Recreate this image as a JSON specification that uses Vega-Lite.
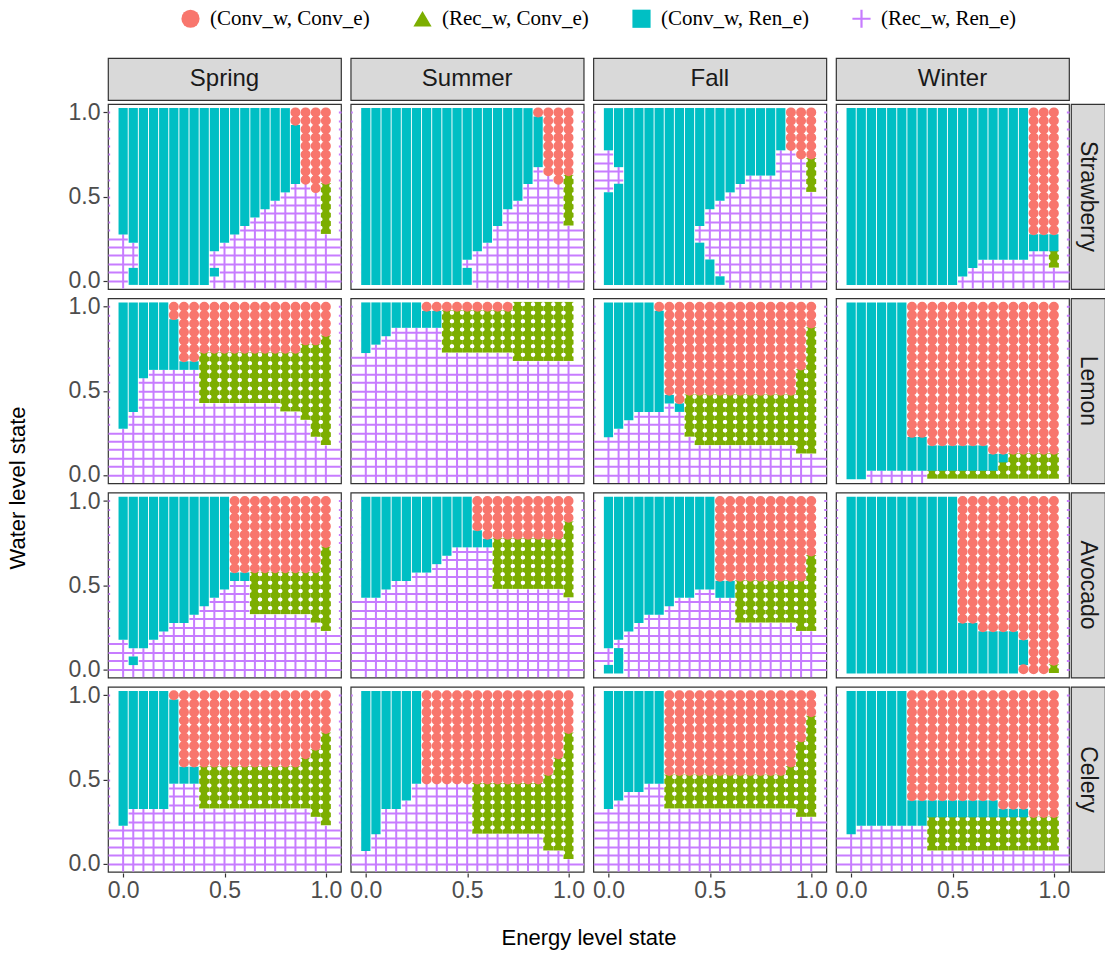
{
  "$schema": "https://vega.github.io/schema/vega-lite/v6.json",
  "padding": {"left": 6, "right": 0, "top": 8, "bottom": 5},
  "background": "white",
  "config": {
    "font": "Liberation Sans",
    "view": {"stroke": null}
  },
  "spacing": 0,
  "vconcat": [
    {
      "data": {"values": [{"season": "Spring"}, {"season": "Summer"}, {"season": "Fall"}, {"season": "Winter"}]},
      "facet": {"column": {"field": "season", "type": "nominal", "sort": ["Spring", "Summer", "Fall", "Winter"], "header": null}},
      "spacing": 7.67,
      "spec": {
        "width": 233, "height": 42,
        "view": {"fill": "#D9D9D9", "stroke": "#333333", "strokeWidth": 1.2},
        "mark": {"type": "text", "fontSize": 24, "color": "#1A1A1A", "font": "Liberation Sans"},
        "encoding": {"text": {"field": "season", "type": "nominal"}}
      }
    },
    {
      "spacing": 0,
      "hconcat": [
        {
          "data": {
            "values": "s,c,x,lo,hi,k\nSp,St,0,0,0.25,P\nSp,St,0,0.3,1,C\nSp,St,0.05,0,0.05,C\nSp,St,0.05,0.1,0.2,P\nSp,St,0.05,0.25,1,C\nSp,St,0.1,0,1,C\nSp,St,0.15,0,1,C\nSp,St,0.2,0,1,C\nSp,St,0.25,0,1,C\nSp,St,0.3,0,1,C\nSp,St,0.35,0,1,C\nSp,St,0.4,0,1,C\nSp,St,0.45,0,0,P\nSp,St,0.45,0.05,0.05,C\nSp,St,0.45,0.1,0.15,P\nSp,St,0.45,0.2,1,C\nSp,St,0.5,0,0.2,P\nSp,St,0.5,0.25,1,C\nSp,St,0.55,0,0.25,P\nSp,St,0.55,0.3,1,C\nSp,St,0.6,0,0.3,P\nSp,St,0.6,0.35,1,C\nSp,St,0.65,0,0.35,P\nSp,St,0.65,0.4,1,C\nSp,St,0.7,0,0.4,P\nSp,St,0.7,0.45,1,C\nSp,St,0.75,0,0.45,P\nSp,St,0.75,0.5,1,C\nSp,St,0.8,0,0.5,P\nSp,St,0.8,0.55,1,C\nSp,St,0.85,0,0.55,P\nSp,St,0.85,0.6,0.9,C\nSp,St,0.85,0.95,1,R\nSp,St,0.9,0,0.55,P\nSp,St,0.9,0.6,1,R\nSp,St,0.95,0,0.5,P\nSp,St,0.95,0.55,1,R\nSp,St,1,0,0.25,P\nSp,St,1,0.3,0.55,G\nSp,St,1,0.6,1,R\nSu,St,0,0,1,C\nSu,St,0.05,0,1,C\nSu,St,0.1,0,1,C\nSu,St,0.15,0,1,C\nSu,St,0.2,0,1,C\nSu,St,0.25,0,1,C\nSu,St,0.3,0,1,C\nSu,St,0.35,0,1,C\nSu,St,0.4,0,1,C\nSu,St,0.45,0,1,C\nSu,St,0.5,0,0.05,C\nSu,St,0.5,0.1,0.1,P\nSu,St,0.5,0.15,1,C\nSu,St,0.55,0,0.15,P\nSu,St,0.55,0.2,1,C\nSu,St,0.6,0,0.2,P\nSu,St,0.6,0.25,1,C\nSu,St,0.65,0,0.3,P\nSu,St,0.65,0.35,1,C\nSu,St,0.7,0,0.4,P\nSu,St,0.7,0.45,1,C\nSu,St,0.75,0,0.45,P\nSu,St,0.75,0.5,1,C\nSu,St,0.8,0,0.55,P\nSu,St,0.8,0.6,1,C\nSu,St,0.85,0,0.65,P\nSu,St,0.85,0.7,0.95,C\nSu,St,0.85,1,1,R\nSu,St,0.9,0,0.6,P\nSu,St,0.9,0.65,1,R\nSu,St,0.95,0,0.55,P\nSu,St,0.95,0.6,1,R\nSu,St,1,0,0.3,P\nSu,St,1,0.35,0.6,G\nSu,St,1,0.65,1,R\nFa,St,0,0,0.5,C\nFa,St,0,0.55,0.75,P\nFa,St,0,0.8,1,C\nFa,St,0.05,0,0.55,C\nFa,St,0.05,0.6,0.65,P\nFa,St,0.05,0.7,1,C\nFa,St,0.1,0,1,C\nFa,St,0.15,0,1,C\nFa,St,0.2,0,1,C\nFa,St,0.25,0,1,C\nFa,St,0.3,0,1,C\nFa,St,0.35,0,1,C\nFa,St,0.4,0,1,C\nFa,St,0.45,0,0.2,C\nFa,St,0.45,0.25,0.3,P\nFa,St,0.45,0.35,1,C\nFa,St,0.5,0,0.1,C\nFa,St,0.5,0.15,0.4,P\nFa,St,0.5,0.45,1,C\nFa,St,0.55,0,0,C\nFa,St,0.55,0.05,0.45,P\nFa,St,0.55,0.5,1,C\nFa,St,0.6,0,0.5,P\nFa,St,0.6,0.55,1,C\nFa,St,0.65,0,0.55,P\nFa,St,0.65,0.6,1,C\nFa,St,0.7,0,0.6,P\nFa,St,0.7,0.65,1,C\nFa,St,0.75,0,0.6,P\nFa,St,0.75,0.65,1,C\nFa,St,0.8,0,0.6,P\nFa,St,0.8,0.65,1,C\nFa,St,0.85,0,0.75,P\nFa,St,0.85,0.8,1,C\nFa,St,0.9,0,0.75,P\nFa,St,0.9,0.8,1,R\nFa,St,0.95,0,0.7,P\nFa,St,0.95,0.75,1,R\nFa,St,1,0,0.5,P\nFa,St,1,0.55,0.7,G\nFa,St,1,0.75,1,R\nWi,St,0,0,1,C\nWi,St,0.05,0,1,C\nWi,St,0.1,0,1,C\nWi,St,0.15,0,1,C\nWi,St,0.2,0,1,C\nWi,St,0.25,0,1,C\nWi,St,0.3,0,1,C\nWi,St,0.35,0,1,C\nWi,St,0.4,0,1,C\nWi,St,0.45,0,1,C\nWi,St,0.5,0,1,C\nWi,St,0.55,0,0,P\nWi,St,0.55,0.05,1,C\nWi,St,0.6,0,0.05,P\nWi,St,0.6,0.1,1,C\nWi,St,0.65,0,0.1,P\nWi,St,0.65,0.15,1,C\nWi,St,0.7,0,0.1,P\nWi,St,0.7,0.15,1,C\nWi,St,0.75,0,0.1,P\nWi,St,0.75,0.15,1,C\nWi,St,0.8,0,0.1,P\nWi,St,0.8,0.15,1,C\nWi,St,0.85,0,0.1,P\nWi,St,0.85,0.15,1,C\nWi,St,0.9,0,0.15,P\nWi,St,0.9,0.2,0.25,C\nWi,St,0.9,0.3,1,R\nWi,St,0.95,0,0.15,P\nWi,St,0.95,0.2,0.25,C\nWi,St,0.95,0.3,1,R\nWi,St,1,0,0.05,P\nWi,St,1,0.1,0.15,G\nWi,St,1,0.2,0.25,C\nWi,St,1,0.3,1,R\nSp,Le,0,0,0.25,P\nSp,Le,0,0.3,1,C\nSp,Le,0.05,0,0.35,P\nSp,Le,0.05,0.4,1,C\nSp,Le,0.1,0,0.55,P\nSp,Le,0.1,0.6,1,C\nSp,Le,0.15,0,0.6,P\nSp,Le,0.15,0.65,1,C\nSp,Le,0.2,0,0.6,P\nSp,Le,0.2,0.65,1,C\nSp,Le,0.25,0,0.6,P\nSp,Le,0.25,0.65,0.9,C\nSp,Le,0.25,0.95,1,R\nSp,Le,0.3,0,0.6,P\nSp,Le,0.3,0.65,0.65,C\nSp,Le,0.3,0.7,1,R\nSp,Le,0.35,0,0.6,P\nSp,Le,0.35,0.65,0.65,C\nSp,Le,0.35,0.7,1,R\nSp,Le,0.4,0,0.4,P\nSp,Le,0.4,0.45,0.7,G\nSp,Le,0.4,0.75,1,R\nSp,Le,0.45,0,0.4,P\nSp,Le,0.45,0.45,0.7,G\nSp,Le,0.45,0.75,1,R\nSp,Le,0.5,0,0.4,P\nSp,Le,0.5,0.45,0.7,G\nSp,Le,0.5,0.75,1,R\nSp,Le,0.55,0,0.4,P\nSp,Le,0.55,0.45,0.7,G\nSp,Le,0.55,0.75,1,R\nSp,Le,0.6,0,0.4,P\nSp,Le,0.6,0.45,0.7,G\nSp,Le,0.6,0.75,1,R\nSp,Le,0.65,0,0.4,P\nSp,Le,0.65,0.45,0.7,G\nSp,Le,0.65,0.75,1,R\nSp,Le,0.7,0,0.4,P\nSp,Le,0.7,0.45,0.7,G\nSp,Le,0.7,0.75,1,R\nSp,Le,0.75,0,0.4,P\nSp,Le,0.75,0.45,0.7,G\nSp,Le,0.75,0.75,1,R\nSp,Le,0.8,0,0.35,P\nSp,Le,0.8,0.4,0.7,G\nSp,Le,0.8,0.75,1,R\nSp,Le,0.85,0,0.35,P\nSp,Le,0.85,0.4,0.7,G\nSp,Le,0.85,0.75,1,R\nSp,Le,0.9,0,0.3,P\nSp,Le,0.9,0.35,0.75,G\nSp,Le,0.9,0.8,1,R\nSp,Le,0.95,0,0.2,P\nSp,Le,0.95,0.25,0.75,G\nSp,Le,0.95,0.8,1,R\nSp,Le,1,0,0.15,P\nSp,Le,1,0.2,0.8,G\nSp,Le,1,0.85,1,R\nSu,Le,0,0,0.7,P\nSu,Le,0,0.75,1,C\nSu,Le,0.05,0,0.75,P\nSu,Le,0.05,0.8,1,C\nSu,Le,0.1,0,0.8,P\nSu,Le,0.1,0.85,1,C\nSu,Le,0.15,0,0.85,P\nSu,Le,0.15,0.9,1,C\nSu,Le,0.2,0,0.85,P\nSu,Le,0.2,0.9,1,C\nSu,Le,0.25,0,0.85,P\nSu,Le,0.25,0.9,1,C\nSu,Le,0.3,0,0.85,P\nSu,Le,0.3,0.9,0.95,C\nSu,Le,0.3,1,1,R\nSu,Le,0.35,0,0.85,P\nSu,Le,0.35,0.9,0.95,C\nSu,Le,0.35,1,1,R\nSu,Le,0.4,0,0.7,P\nSu,Le,0.4,0.75,0.95,G\nSu,Le,0.4,1,1,R\nSu,Le,0.45,0,0.7,P\nSu,Le,0.45,0.75,0.95,G\nSu,Le,0.45,1,1,R\nSu,Le,0.5,0,0.7,P\nSu,Le,0.5,0.75,0.95,G\nSu,Le,0.5,1,1,R\nSu,Le,0.55,0,0.7,P\nSu,Le,0.55,0.75,0.95,G\nSu,Le,0.55,1,1,R\nSu,Le,0.6,0,0.7,P\nSu,Le,0.6,0.75,0.95,G\nSu,Le,0.6,1,1,R\nSu,Le,0.65,0,0.7,P\nSu,Le,0.65,0.75,0.95,G\nSu,Le,0.65,1,1,R\nSu,Le,0.7,0,0.7,P\nSu,Le,0.7,0.75,0.95,G\nSu,Le,0.7,1,1,R\nSu,Le,0.75,0,0.65,P\nSu,Le,0.75,0.7,1,G\nSu,Le,0.8,0,0.65,P\nSu,Le,0.8,0.7,1,G\nSu,Le,0.85,0,0.65,P\nSu,Le,0.85,0.7,1,G\nSu,Le,0.9,0,0.65,P\nSu,Le,0.9,0.7,1,G\nSu,Le,0.95,0,0.65,P\nSu,Le,0.95,0.7,1,G\nSu,Le,1,0,0.65,P\nSu,Le,1,0.7,1,G\nFa,Le,0,0,0.2,P\nFa,Le,0,0.25,1,C\nFa,Le,0.05,0,0.25,P\nFa,Le,0.05,0.3,1,C\nFa,Le,0.1,0,0.3,P\nFa,Le,0.1,0.35,1,C\nFa,Le,0.15,0,0.35,P\nFa,Le,0.15,0.4,1,C\nFa,Le,0.2,0,0.35,P\nFa,Le,0.2,0.4,1,C\nFa,Le,0.25,0,0.35,P\nFa,Le,0.25,0.4,0.95,C\nFa,Le,0.25,1,1,R\nFa,Le,0.3,0,0.4,P\nFa,Le,0.3,0.45,0.45,C\nFa,Le,0.3,0.5,1,R\nFa,Le,0.35,0,0.35,P\nFa,Le,0.35,0.4,0.4,C\nFa,Le,0.35,0.45,1,R\nFa,Le,0.4,0,0.2,P\nFa,Le,0.4,0.25,0.45,G\nFa,Le,0.4,0.5,1,R\nFa,Le,0.45,0,0.15,P\nFa,Le,0.45,0.2,0.45,G\nFa,Le,0.45,0.5,1,R\nFa,Le,0.5,0,0.15,P\nFa,Le,0.5,0.2,0.45,G\nFa,Le,0.5,0.5,1,R\nFa,Le,0.55,0,0.15,P\nFa,Le,0.55,0.2,0.45,G\nFa,Le,0.55,0.5,1,R\nFa,Le,0.6,0,0.15,P\nFa,Le,0.6,0.2,0.45,G\nFa,Le,0.6,0.5,1,R\nFa,Le,0.65,0,0.15,P\nFa,Le,0.65,0.2,0.45,G\nFa,Le,0.65,0.5,1,R\nFa,Le,0.7,0,0.15,P\nFa,Le,0.7,0.2,0.45,G\nFa,Le,0.7,0.5,1,R\nFa,Le,0.75,0,0.15,P\nFa,Le,0.75,0.2,0.45,G\nFa,Le,0.75,0.5,1,R\nFa,Le,0.8,0,0.15,P\nFa,Le,0.8,0.2,0.45,G\nFa,Le,0.8,0.5,1,R\nFa,Le,0.85,0,0.15,P\nFa,Le,0.85,0.2,0.45,G\nFa,Le,0.85,0.5,1,R\nFa,Le,0.9,0,0.15,P\nFa,Le,0.9,0.2,0.45,G\nFa,Le,0.9,0.5,1,R\nFa,Le,0.95,0,0.1,P\nFa,Le,0.95,0.15,0.6,G\nFa,Le,0.95,0.65,1,R\nFa,Le,1,0,0.1,P\nFa,Le,1,0.15,0.85,G\nFa,Le,1,0.9,1,R\nWi,Le,0,0,1,C\nWi,Le,0.05,0,1,C\nWi,Le,0.1,0,0,P\nWi,Le,0.1,0.05,1,C\nWi,Le,0.15,0,0,P\nWi,Le,0.15,0.05,1,C\nWi,Le,0.2,0,0,P\nWi,Le,0.2,0.05,1,C\nWi,Le,0.25,0,0,P\nWi,Le,0.25,0.05,1,C\nWi,Le,0.3,0,0,P\nWi,Le,0.3,0.05,0.2,C\nWi,Le,0.3,0.25,1,R\nWi,Le,0.35,0,0,P\nWi,Le,0.35,0.05,0.2,C\nWi,Le,0.35,0.25,1,R\nWi,Le,0.4,0,0,G\nWi,Le,0.4,0.05,0.15,C\nWi,Le,0.4,0.2,1,R\nWi,Le,0.45,0,0,G\nWi,Le,0.45,0.05,0.15,C\nWi,Le,0.45,0.2,1,R\nWi,Le,0.5,0,0,G\nWi,Le,0.5,0.05,0.15,C\nWi,Le,0.5,0.2,1,R\nWi,Le,0.55,0,0,G\nWi,Le,0.55,0.05,0.15,C\nWi,Le,0.55,0.2,1,R\nWi,Le,0.6,0,0,G\nWi,Le,0.6,0.05,0.15,C\nWi,Le,0.6,0.2,1,R\nWi,Le,0.65,0,0,G\nWi,Le,0.65,0.05,0.15,C\nWi,Le,0.65,0.2,1,R\nWi,Le,0.7,0,0,G\nWi,Le,0.7,0.05,0.1,C\nWi,Le,0.7,0.15,1,R\nWi,Le,0.75,0,0.05,G\nWi,Le,0.75,0.1,0.1,C\nWi,Le,0.75,0.15,1,R\nWi,Le,0.8,0,0.1,G\nWi,Le,0.8,0.15,1,R\nWi,Le,0.85,0,0.1,G\nWi,Le,0.85,0.15,1,R\nWi,Le,0.9,0,0.1,G\nWi,Le,0.9,0.15,1,R\nWi,Le,0.95,0,0.1,G\nWi,Le,0.95,0.15,1,R\nWi,Le,1,0,0.1,G\nWi,Le,1,0.15,1,R\nSp,Av,0,0,0.15,P\nSp,Av,0,0.2,1,C\nSp,Av,0.05,0,0,P\nSp,Av,0.05,0.05,0.05,C\nSp,Av,0.05,0.1,0.1,P\nSp,Av,0.05,0.15,1,C\nSp,Av,0.1,0,0.1,P\nSp,Av,0.1,0.15,1,C\nSp,Av,0.15,0,0.15,P\nSp,Av,0.15,0.2,1,C\nSp,Av,0.2,0,0.2,P\nSp,Av,0.2,0.25,1,C\nSp,Av,0.25,0,0.25,P\nSp,Av,0.25,0.3,1,C\nSp,Av,0.3,0,0.25,P\nSp,Av,0.3,0.3,1,C\nSp,Av,0.35,0,0.3,P\nSp,Av,0.35,0.35,1,C\nSp,Av,0.4,0,0.35,P\nSp,Av,0.4,0.4,1,C\nSp,Av,0.45,0,0.4,P\nSp,Av,0.45,0.45,1,C\nSp,Av,0.5,0,0.45,P\nSp,Av,0.5,0.5,1,C\nSp,Av,0.55,0,0.5,P\nSp,Av,0.55,0.55,0.55,C\nSp,Av,0.55,0.6,1,R\nSp,Av,0.6,0,0.5,P\nSp,Av,0.6,0.55,0.55,C\nSp,Av,0.6,0.6,1,R\nSp,Av,0.65,0,0.3,P\nSp,Av,0.65,0.35,0.55,G\nSp,Av,0.65,0.6,1,R\nSp,Av,0.7,0,0.3,P\nSp,Av,0.7,0.35,0.55,G\nSp,Av,0.7,0.6,1,R\nSp,Av,0.75,0,0.3,P\nSp,Av,0.75,0.35,0.55,G\nSp,Av,0.75,0.6,1,R\nSp,Av,0.8,0,0.3,P\nSp,Av,0.8,0.35,0.55,G\nSp,Av,0.8,0.6,1,R\nSp,Av,0.85,0,0.3,P\nSp,Av,0.85,0.35,0.55,G\nSp,Av,0.85,0.6,1,R\nSp,Av,0.9,0,0.3,P\nSp,Av,0.9,0.35,0.55,G\nSp,Av,0.9,0.6,1,R\nSp,Av,0.95,0,0.25,P\nSp,Av,0.95,0.3,0.55,G\nSp,Av,0.95,0.6,1,R\nSp,Av,1,0,0.2,P\nSp,Av,1,0.25,0.7,G\nSp,Av,1,0.75,1,R\nSu,Av,0,0,0.4,P\nSu,Av,0,0.45,1,C\nSu,Av,0.05,0,0.4,P\nSu,Av,0.05,0.45,1,C\nSu,Av,0.1,0,0.45,P\nSu,Av,0.1,0.5,1,C\nSu,Av,0.15,0,0.5,P\nSu,Av,0.15,0.55,1,C\nSu,Av,0.2,0,0.5,P\nSu,Av,0.2,0.55,1,C\nSu,Av,0.25,0,0.55,P\nSu,Av,0.25,0.6,1,C\nSu,Av,0.3,0,0.55,P\nSu,Av,0.3,0.6,1,C\nSu,Av,0.35,0,0.6,P\nSu,Av,0.35,0.65,1,C\nSu,Av,0.4,0,0.65,P\nSu,Av,0.4,0.7,1,C\nSu,Av,0.45,0,0.7,P\nSu,Av,0.45,0.75,1,C\nSu,Av,0.5,0,0.7,P\nSu,Av,0.5,0.75,1,C\nSu,Av,0.55,0,0.7,P\nSu,Av,0.55,0.75,0.8,C\nSu,Av,0.55,0.85,1,R\nSu,Av,0.6,0,0.7,P\nSu,Av,0.6,0.75,0.75,C\nSu,Av,0.6,0.8,1,R\nSu,Av,0.65,0,0.45,P\nSu,Av,0.65,0.5,0.75,G\nSu,Av,0.65,0.8,1,R\nSu,Av,0.7,0,0.45,P\nSu,Av,0.7,0.5,0.75,G\nSu,Av,0.7,0.8,1,R\nSu,Av,0.75,0,0.45,P\nSu,Av,0.75,0.5,0.75,G\nSu,Av,0.75,0.8,1,R\nSu,Av,0.8,0,0.45,P\nSu,Av,0.8,0.5,0.75,G\nSu,Av,0.8,0.8,1,R\nSu,Av,0.85,0,0.45,P\nSu,Av,0.85,0.5,0.75,G\nSu,Av,0.85,0.8,1,R\nSu,Av,0.9,0,0.45,P\nSu,Av,0.9,0.5,0.75,G\nSu,Av,0.9,0.8,1,R\nSu,Av,0.95,0,0.45,P\nSu,Av,0.95,0.5,0.75,G\nSu,Av,0.95,0.8,1,R\nSu,Av,1,0,0.4,P\nSu,Av,1,0.45,0.85,G\nSu,Av,1,0.9,1,R\nFa,Av,0,0,0,C\nFa,Av,0,0.05,0.1,P\nFa,Av,0,0.15,1,C\nFa,Av,0.05,0,0.1,C\nFa,Av,0.05,0.15,0.15,P\nFa,Av,0.05,0.2,1,C\nFa,Av,0.1,0,0.2,P\nFa,Av,0.1,0.25,1,C\nFa,Av,0.15,0,0.25,P\nFa,Av,0.15,0.3,1,C\nFa,Av,0.2,0,0.3,P\nFa,Av,0.2,0.35,1,C\nFa,Av,0.25,0,0.3,P\nFa,Av,0.25,0.35,1,C\nFa,Av,0.3,0,0.35,P\nFa,Av,0.3,0.4,1,C\nFa,Av,0.35,0,0.4,P\nFa,Av,0.35,0.45,1,C\nFa,Av,0.4,0,0.4,P\nFa,Av,0.4,0.45,1,C\nFa,Av,0.45,0,0.45,P\nFa,Av,0.45,0.5,1,C\nFa,Av,0.5,0,0.45,P\nFa,Av,0.5,0.5,1,C\nFa,Av,0.55,0,0.4,P\nFa,Av,0.55,0.45,0.5,C\nFa,Av,0.55,0.55,1,R\nFa,Av,0.6,0,0.4,P\nFa,Av,0.6,0.45,0.5,C\nFa,Av,0.6,0.55,1,R\nFa,Av,0.65,0,0.25,P\nFa,Av,0.65,0.3,0.5,G\nFa,Av,0.65,0.55,1,R\nFa,Av,0.7,0,0.25,P\nFa,Av,0.7,0.3,0.5,G\nFa,Av,0.7,0.55,1,R\nFa,Av,0.75,0,0.25,P\nFa,Av,0.75,0.3,0.5,G\nFa,Av,0.75,0.55,1,R\nFa,Av,0.8,0,0.25,P\nFa,Av,0.8,0.3,0.5,G\nFa,Av,0.8,0.55,1,R\nFa,Av,0.85,0,0.25,P\nFa,Av,0.85,0.3,0.5,G\nFa,Av,0.85,0.55,1,R\nFa,Av,0.9,0,0.25,P\nFa,Av,0.9,0.3,0.5,G\nFa,Av,0.9,0.55,1,R\nFa,Av,0.95,0,0.2,P\nFa,Av,0.95,0.25,0.5,G\nFa,Av,0.95,0.55,1,R\nFa,Av,1,0,0.2,P\nFa,Av,1,0.25,0.65,G\nFa,Av,1,0.7,1,R\nWi,Av,0,0,1,C\nWi,Av,0.05,0,1,C\nWi,Av,0.1,0,1,C\nWi,Av,0.15,0,1,C\nWi,Av,0.2,0,1,C\nWi,Av,0.25,0,1,C\nWi,Av,0.3,0,1,C\nWi,Av,0.35,0,1,C\nWi,Av,0.4,0,1,C\nWi,Av,0.45,0,1,C\nWi,Av,0.5,0,1,C\nWi,Av,0.55,0,0.25,C\nWi,Av,0.55,0.3,1,R\nWi,Av,0.6,0,0.25,C\nWi,Av,0.6,0.3,1,R\nWi,Av,0.65,0,0.2,C\nWi,Av,0.65,0.25,1,R\nWi,Av,0.7,0,0.2,C\nWi,Av,0.7,0.25,1,R\nWi,Av,0.75,0,0.2,C\nWi,Av,0.75,0.25,1,R\nWi,Av,0.8,0,0.2,C\nWi,Av,0.8,0.25,1,R\nWi,Av,0.85,0,0,R\nWi,Av,0.85,0.05,0.15,C\nWi,Av,0.85,0.2,1,R\nWi,Av,0.9,0,1,R\nWi,Av,0.95,0,1,R\nWi,Av,1,0,0,G\nWi,Av,1,0.05,1,R\nSp,Ce,0,0,0.2,P\nSp,Ce,0,0.25,1,C\nSp,Ce,0.05,0,0.3,P\nSp,Ce,0.05,0.35,1,C\nSp,Ce,0.1,0,0.3,P\nSp,Ce,0.1,0.35,1,C\nSp,Ce,0.15,0,0.3,P\nSp,Ce,0.15,0.35,1,C\nSp,Ce,0.2,0,0.3,P\nSp,Ce,0.2,0.35,1,C\nSp,Ce,0.25,0,0.45,P\nSp,Ce,0.25,0.5,0.95,C\nSp,Ce,0.25,1,1,R\nSp,Ce,0.3,0,0.45,P\nSp,Ce,0.3,0.5,0.55,C\nSp,Ce,0.3,0.6,1,R\nSp,Ce,0.35,0,0.45,P\nSp,Ce,0.35,0.5,0.55,C\nSp,Ce,0.35,0.6,1,R\nSp,Ce,0.4,0,0.3,P\nSp,Ce,0.4,0.35,0.55,G\nSp,Ce,0.4,0.6,1,R\nSp,Ce,0.45,0,0.3,P\nSp,Ce,0.45,0.35,0.55,G\nSp,Ce,0.45,0.6,1,R\nSp,Ce,0.5,0,0.3,P\nSp,Ce,0.5,0.35,0.55,G\nSp,Ce,0.5,0.6,1,R\nSp,Ce,0.55,0,0.3,P\nSp,Ce,0.55,0.35,0.55,G\nSp,Ce,0.55,0.6,1,R\nSp,Ce,0.6,0,0.3,P\nSp,Ce,0.6,0.35,0.55,G\nSp,Ce,0.6,0.6,1,R\nSp,Ce,0.65,0,0.3,P\nSp,Ce,0.65,0.35,0.55,G\nSp,Ce,0.65,0.6,1,R\nSp,Ce,0.7,0,0.3,P\nSp,Ce,0.7,0.35,0.55,G\nSp,Ce,0.7,0.6,1,R\nSp,Ce,0.75,0,0.3,P\nSp,Ce,0.75,0.35,0.55,G\nSp,Ce,0.75,0.6,1,R\nSp,Ce,0.8,0,0.3,P\nSp,Ce,0.8,0.35,0.55,G\nSp,Ce,0.8,0.6,1,R\nSp,Ce,0.85,0,0.3,P\nSp,Ce,0.85,0.35,0.55,G\nSp,Ce,0.85,0.6,1,R\nSp,Ce,0.9,0,0.3,P\nSp,Ce,0.9,0.35,0.6,G\nSp,Ce,0.9,0.65,1,R\nSp,Ce,0.95,0,0.25,P\nSp,Ce,0.95,0.3,0.65,G\nSp,Ce,0.95,0.7,1,R\nSp,Ce,1,0,0.2,P\nSp,Ce,1,0.25,0.75,G\nSp,Ce,1,0.8,1,R\nSu,Ce,0,0,0.05,P\nSu,Ce,0,0.1,1,C\nSu,Ce,0.05,0,0.15,P\nSu,Ce,0.05,0.2,1,C\nSu,Ce,0.1,0,0.3,P\nSu,Ce,0.1,0.35,1,C\nSu,Ce,0.15,0,0.3,P\nSu,Ce,0.15,0.35,1,C\nSu,Ce,0.2,0,0.35,P\nSu,Ce,0.2,0.4,1,C\nSu,Ce,0.25,0,0.45,P\nSu,Ce,0.25,0.5,1,C\nSu,Ce,0.3,0,0.45,P\nSu,Ce,0.3,0.5,1,R\nSu,Ce,0.35,0,0.45,P\nSu,Ce,0.35,0.5,1,R\nSu,Ce,0.4,0,0.45,P\nSu,Ce,0.4,0.5,1,R\nSu,Ce,0.45,0,0.45,P\nSu,Ce,0.45,0.5,1,R\nSu,Ce,0.5,0,0.45,P\nSu,Ce,0.5,0.5,1,R\nSu,Ce,0.55,0,0.15,P\nSu,Ce,0.55,0.2,0.45,G\nSu,Ce,0.55,0.5,1,R\nSu,Ce,0.6,0,0.15,P\nSu,Ce,0.6,0.2,0.45,G\nSu,Ce,0.6,0.5,1,R\nSu,Ce,0.65,0,0.15,P\nSu,Ce,0.65,0.2,0.45,G\nSu,Ce,0.65,0.5,1,R\nSu,Ce,0.7,0,0.15,P\nSu,Ce,0.7,0.2,0.45,G\nSu,Ce,0.7,0.5,1,R\nSu,Ce,0.75,0,0.15,P\nSu,Ce,0.75,0.2,0.45,G\nSu,Ce,0.75,0.5,1,R\nSu,Ce,0.8,0,0.15,P\nSu,Ce,0.8,0.2,0.45,G\nSu,Ce,0.8,0.5,1,R\nSu,Ce,0.85,0,0.15,P\nSu,Ce,0.85,0.2,0.45,G\nSu,Ce,0.85,0.5,1,R\nSu,Ce,0.9,0,0.05,P\nSu,Ce,0.9,0.1,0.5,G\nSu,Ce,0.9,0.55,1,R\nSu,Ce,0.95,0,0.05,P\nSu,Ce,0.95,0.1,0.6,G\nSu,Ce,0.95,0.65,1,R\nSu,Ce,1,0,0,P\nSu,Ce,1,0.05,0.75,G\nSu,Ce,1,0.8,1,R\nFa,Ce,0,0,0.3,P\nFa,Ce,0,0.35,1,C\nFa,Ce,0.05,0,0.35,P\nFa,Ce,0.05,0.4,1,C\nFa,Ce,0.1,0,0.4,P\nFa,Ce,0.1,0.45,1,C\nFa,Ce,0.15,0,0.4,P\nFa,Ce,0.15,0.45,1,C\nFa,Ce,0.2,0,0.45,P\nFa,Ce,0.2,0.5,1,C\nFa,Ce,0.25,0,0.45,P\nFa,Ce,0.25,0.5,1,C\nFa,Ce,0.3,0,0.3,P\nFa,Ce,0.3,0.35,0.5,G\nFa,Ce,0.3,0.55,1,R\nFa,Ce,0.35,0,0.3,P\nFa,Ce,0.35,0.35,0.5,G\nFa,Ce,0.35,0.55,1,R\nFa,Ce,0.4,0,0.3,P\nFa,Ce,0.4,0.35,0.5,G\nFa,Ce,0.4,0.55,1,R\nFa,Ce,0.45,0,0.3,P\nFa,Ce,0.45,0.35,0.5,G\nFa,Ce,0.45,0.55,1,R\nFa,Ce,0.5,0,0.3,P\nFa,Ce,0.5,0.35,0.5,G\nFa,Ce,0.5,0.55,1,R\nFa,Ce,0.55,0,0.3,P\nFa,Ce,0.55,0.35,0.5,G\nFa,Ce,0.55,0.55,1,R\nFa,Ce,0.6,0,0.3,P\nFa,Ce,0.6,0.35,0.5,G\nFa,Ce,0.6,0.55,1,R\nFa,Ce,0.65,0,0.3,P\nFa,Ce,0.65,0.35,0.5,G\nFa,Ce,0.65,0.55,1,R\nFa,Ce,0.7,0,0.3,P\nFa,Ce,0.7,0.35,0.5,G\nFa,Ce,0.7,0.55,1,R\nFa,Ce,0.75,0,0.3,P\nFa,Ce,0.75,0.35,0.5,G\nFa,Ce,0.75,0.55,1,R\nFa,Ce,0.8,0,0.3,P\nFa,Ce,0.8,0.35,0.5,G\nFa,Ce,0.8,0.55,1,R\nFa,Ce,0.85,0,0.3,P\nFa,Ce,0.85,0.35,0.5,G\nFa,Ce,0.85,0.55,1,R\nFa,Ce,0.9,0,0.3,P\nFa,Ce,0.9,0.35,0.55,G\nFa,Ce,0.9,0.6,1,R\nFa,Ce,0.95,0,0.25,P\nFa,Ce,0.95,0.3,0.7,G\nFa,Ce,0.95,0.75,1,R\nFa,Ce,1,0,0.25,P\nFa,Ce,1,0.3,0.85,G\nFa,Ce,1,0.9,1,R\nWi,Ce,0,0,0.15,P\nWi,Ce,0,0.2,1,C\nWi,Ce,0.05,0,0.2,P\nWi,Ce,0.05,0.25,1,C\nWi,Ce,0.1,0,0.2,P\nWi,Ce,0.1,0.25,1,C\nWi,Ce,0.15,0,0.2,P\nWi,Ce,0.15,0.25,1,C\nWi,Ce,0.2,0,0.2,P\nWi,Ce,0.2,0.25,1,C\nWi,Ce,0.25,0,0.2,P\nWi,Ce,0.25,0.25,1,C\nWi,Ce,0.3,0,0.2,P\nWi,Ce,0.3,0.25,0.35,C\nWi,Ce,0.3,0.4,1,R\nWi,Ce,0.35,0,0.2,P\nWi,Ce,0.35,0.25,0.35,C\nWi,Ce,0.35,0.4,1,R\nWi,Ce,0.4,0,0.05,P\nWi,Ce,0.4,0.1,0.25,G\nWi,Ce,0.4,0.3,0.35,C\nWi,Ce,0.4,0.4,1,R\nWi,Ce,0.45,0,0.05,P\nWi,Ce,0.45,0.1,0.25,G\nWi,Ce,0.45,0.3,0.35,C\nWi,Ce,0.45,0.4,1,R\nWi,Ce,0.5,0,0.05,P\nWi,Ce,0.5,0.1,0.25,G\nWi,Ce,0.5,0.3,0.35,C\nWi,Ce,0.5,0.4,1,R\nWi,Ce,0.55,0,0.05,P\nWi,Ce,0.55,0.1,0.25,G\nWi,Ce,0.55,0.3,0.35,C\nWi,Ce,0.55,0.4,1,R\nWi,Ce,0.6,0,0.05,P\nWi,Ce,0.6,0.1,0.25,G\nWi,Ce,0.6,0.3,0.35,C\nWi,Ce,0.6,0.4,1,R\nWi,Ce,0.65,0,0.05,P\nWi,Ce,0.65,0.1,0.25,G\nWi,Ce,0.65,0.3,0.35,C\nWi,Ce,0.65,0.4,1,R\nWi,Ce,0.7,0,0.05,P\nWi,Ce,0.7,0.1,0.25,G\nWi,Ce,0.7,0.3,0.35,C\nWi,Ce,0.7,0.4,1,R\nWi,Ce,0.75,0,0.05,P\nWi,Ce,0.75,0.1,0.25,G\nWi,Ce,0.75,0.3,0.3,C\nWi,Ce,0.75,0.35,1,R\nWi,Ce,0.8,0,0.05,P\nWi,Ce,0.8,0.1,0.25,G\nWi,Ce,0.8,0.3,0.3,C\nWi,Ce,0.8,0.35,1,R\nWi,Ce,0.85,0,0.05,P\nWi,Ce,0.85,0.1,0.25,G\nWi,Ce,0.85,0.3,0.3,C\nWi,Ce,0.85,0.35,1,R\nWi,Ce,0.9,0,0.05,P\nWi,Ce,0.9,0.1,0.25,G\nWi,Ce,0.9,0.3,1,R\nWi,Ce,0.95,0,0.05,P\nWi,Ce,0.95,0.1,0.25,G\nWi,Ce,0.95,0.3,1,R\nWi,Ce,1,0,0.05,P\nWi,Ce,1,0.1,0.25,G\nWi,Ce,1,0.3,1,R",
            "format": {"type": "csv", "parse": {"x": "number", "lo": "number", "hi": "number"}}
          },
          "facet": {
            "row": {"field": "c", "type": "nominal", "sort": ["St", "Le", "Av", "Ce"],
                    "header": {"labels": false, "title": "Water level state", "titleFontSize": 22, "titleFont": "Liberation Sans", "titleFontWeight": "normal", "titleColor": "#000000", "titlePadding": 28}},
            "column": {"field": "s", "type": "nominal", "sort": ["Sp", "Su", "Fa", "Wi"],
                    "header": {"labels": false, "title": "Energy level state", "titleOrient": "bottom", "titleFontSize": 22, "titleFont": "Liberation Sans", "titleFontWeight": "normal", "titleColor": "#000000", "titlePadding": 16}}
          },
          "spacing": {"row": 7.3, "column": 7.67},
          "spec": {
            "width": 233, "height": 185,
            "view": {"stroke": "#333333", "strokeWidth": 1.2},
            "encoding": {
              "x": {"field": "x", "type": "quantitative",
                    "scale": {"domain": [-0.05, 1.05], "nice": false, "zero": false},
                    "axis": {"values": [0, 0.5, 1], "format": ".1f", "title": null, "grid": false, "domain": false,
                             "labelFontSize": 23, "labelColor": "#4D4D4D", "labelFont": "Liberation Sans",
                             "tickColor": "#333333", "tickSize": 4, "tickWidth": 1.2, "labelPadding": 2}},
              "y": {"field": "lo", "type": "quantitative",
                    "scale": {"domain": [-0.05, 1.05], "nice": false, "zero": false},
                    "axis": {"values": [0, 0.05, 0.1, 0.15, 0.2, 0.25, 0.3, 0.35, 0.4, 0.45, 0.5, 0.55, 0.6, 0.65, 0.7, 0.75, 0.8, 0.85, 0.9, 0.95, 1],
                             "title": null, "grid": true, "gridColor": "#C77CFF", "gridWidth": 2, "gridOpacity": 1, "domain": false,
                             "labelOverlap": false,
                             "labelExpr": "(datum.value == 0 || datum.value == 0.5 || datum.value == 1) ? format(datum.value, '.1f') : ''",
                             "labelFontSize": 23, "labelColor": "#4D4D4D", "labelFont": "Liberation Sans", "labelPadding": 3,
                             "tickColor": "#333333", "tickSize": 4, "tickWidth": 1.2,
                             "tickOpacity": {"condition": {"test": "datum.value == 0 || datum.value == 0.5 || datum.value == 1", "value": 1}, "value": 0}}},
              "y2": {"field": "hi"}
            },
            "layer": [
              {"transform": [{"filter": "datum.k == 'P'"}],
               "mark": {"type": "rule", "color": "#C77CFF", "strokeWidth": 2, "yOffset": 8, "y2Offset": -8, "clip": true}},
              {"transform": [{"filter": "datum.k != 'P'"}],
               "mark": {"type": "bar", "color": "white", "width": 11, "yOffset": 4.2, "y2Offset": -4.2}},
              {"transform": [{"filter": "datum.k != 'P' && datum.x == 0"}],
               "mark": {"type": "bar", "color": "white", "width": 8, "xOffset": -9, "yOffset": 4.2, "y2Offset": -4.2, "clip": true}},
              {"transform": [{"filter": "datum.k != 'P' && datum.x == 1"}],
               "mark": {"type": "bar", "color": "white", "width": 8, "xOffset": 9, "yOffset": 4.2, "y2Offset": -4.2, "clip": true}},
              {"transform": [{"filter": "datum.k == 'G'"}],
               "mark": {"type": "bar", "color": "#7CAE00", "width": 10, "yOffset": 3.8, "y2Offset": -4.8}},
              {"transform": [{"filter": "datum.k == 'G'"}],
               "mark": {"type": "rule", "color": "white", "strokeWidth": 4, "strokeCap": "round", "strokeDash": [0.001, 8.40809], "xOffset": 5.3, "yOffset": -2.4, "y2Offset": -2.45}},
              {"transform": [{"filter": "datum.k == 'G'"}],
               "mark": {"type": "rule", "color": "white", "strokeWidth": 4, "strokeCap": "round", "strokeDash": [0.001, 8.40809], "xOffset": -5.3, "yOffset": -2.4, "y2Offset": -2.45}},
              {"transform": [{"filter": "datum.k == 'C'"}],
               "mark": {"type": "bar", "color": "#00BFC4", "width": 9.2, "yOffset": 4.3, "y2Offset": -4.3}},
              {"transform": [{"filter": "datum.k == 'R'"}],
               "mark": {"type": "rule", "color": "#F8766D", "strokeWidth": 10, "strokeCap": "round", "strokeDash": [0.001, 8.40809], "y2Offset": -0.05}},
              {"transform": [{"filter": "false"}],
               "mark": {"type": "point", "filled": true, "opacity": 1},
               "encoding": {
                 "color": {"field": "k", "type": "nominal",
                           "scale": {"domain": ["R", "G", "C", "P"], "range": ["#F8766D", "#7CAE00", "#00BFC4", "#C77CFF"]},
                           "legend": {"title": null, "orient": "none", "legendX": 72, "legendY": -50, "direction": "horizontal",
                                      "labelExpr": "datum.label == 'R' ? '(Conv_w, Conv_e)' : datum.label == 'G' ? '(Rec_w, Conv_e)' : datum.label == 'C' ? '(Conv_w, Ren_e)' : '(Rec_w, Ren_e)'",
                                      "labelFont": "Liberation Serif", "labelFontSize": 21, "labelColor": "#000000", "symbolSize": 330, "columnPadding": 42, "labelOffset": 9, "labelLimit": 300, "padding": 0}},
                 "shape": {"field": "k", "type": "nominal",
                           "scale": {"domain": ["R", "G", "C", "P"], "range": ["circle", "triangle-up", "square", "M-1,-0.12H1V0.12H-1Z M-0.12,-1H0.12V1H-0.12Z"]},
                           "legend": {"title": null, "orient": "none", "legendX": 72, "legendY": -50, "direction": "horizontal",
                                      "labelExpr": "datum.label == 'R' ? '(Conv_w, Conv_e)' : datum.label == 'G' ? '(Rec_w, Conv_e)' : datum.label == 'C' ? '(Conv_w, Ren_e)' : '(Rec_w, Ren_e)'",
                                      "labelFont": "Liberation Serif", "labelFontSize": 21, "labelColor": "#000000", "symbolSize": 330, "columnPadding": 42, "labelOffset": 9, "labelLimit": 300, "padding": 0}}
               }}
            ]
          }
        },
        {
          "data": {"values": [{"crop": "Strawberry"}, {"crop": "Lemon"}, {"crop": "Avocado"}, {"crop": "Celery"}]},
          "facet": {"row": {"field": "crop", "type": "nominal", "sort": ["Strawberry", "Lemon", "Avocado", "Celery"], "header": null}},
          "spacing": 7.3,
          "spec": {
            "width": 34, "height": 185,
            "view": {"fill": "#D9D9D9", "stroke": "#333333", "strokeWidth": 1.2},
            "mark": {"type": "text", "fontSize": 23, "color": "#1A1A1A", "font": "Liberation Sans", "angle": 90},
            "encoding": {"text": {"field": "crop", "type": "nominal"}}
          }
        }
      ]
    }
  ]
}
